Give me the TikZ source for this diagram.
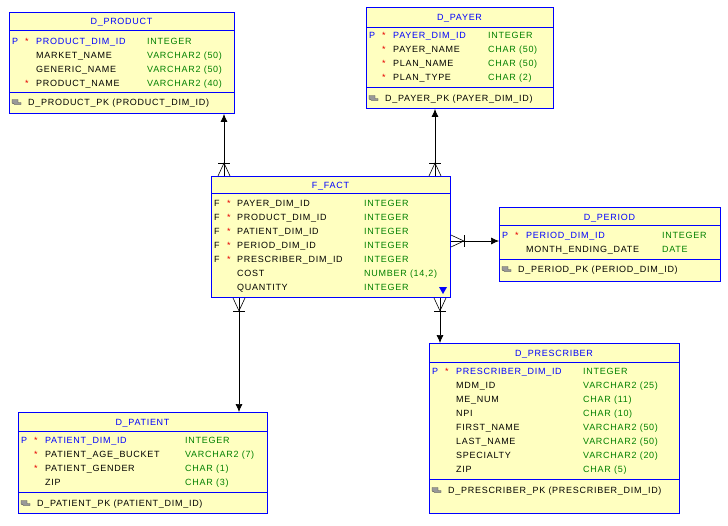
\documentclass[tikz,border=0pt]{standalone}
\usepackage{fontspec}
\setmainfont{Liberation Sans}[LetterSpace=8]
\usetikzlibrary{arrows.meta}
\definecolor{tfill}{RGB}{255,255,192}
\definecolor{tblue}{RGB}{0,0,255}
\definecolor{tgreen}{RGB}{0,128,0}
\definecolor{tred}{RGB}{230,0,0}
\tikzset{
  tbl/.style={draw=tblue,fill=tfill,line width=0.9pt,inner sep=0,anchor=north west},
  sep/.style={draw=tblue,line width=0.9pt},
  ttl/.style={text=tblue,font=\fontsize{9}{10}\selectfont,inner sep=0,anchor=base,yshift=-3.3pt},
  txt/.style={anchor=base west,inner sep=0,yshift=-3.3pt,font=\fontsize{9}{10}\selectfont},
  pk/.style={txt,text=tblue},
  ty/.style={txt,text=tgreen},
  st/.style={txt,text=tred},
  rel/.style={draw=black,line width=0.7pt},
  crow/.style={draw=black,line width=0.6pt},
}
\newcommand\keyicon[2]{%
  \fill[gray!80,draw=gray!50!black,line width=0.3pt] (#1,#2-2.5) -- (#1+6,#2-2.5) -- (#1+6,#2+0.5) -- (#1+9,#2+0.5) -- (#1+9,#2+2.5) -- (#1+3,#2+2.5) -- (#1,#2+1) -- cycle;
}
% name, x1,y1,x2,y2, titleline, divider, title, titley
\newcommand\ertable[9]{%
  \node[tbl,minimum width=#4-#2,minimum height=#5-#3] (#1) at (#2,#3) {};
  \draw[sep] (#2,#6) -- (#4,#6);
  \draw[sep] (#2,#7) -- (#4,#7);
  \node[ttl] (#1-t) at ({(#2+#4)/2},#9) {#8};
}
\begin{document}
\begin{tikzpicture}[x=1pt,y=-1pt]
\useasboundingbox (0,0) rectangle (728,525);
% D_PRODUCT
\ertable{prod}{9}{12}{234}{113}{30}{92}{D\_PRODUCT}{21}
\node[pk] (p1) at (12,41) {P}; \node[st] (p2) at (25,41) {*}; \node[pk] (p3) at (36,41) {PRODUCT\_DIM\_ID}; \node[ty] (p4) at (147,41) {INTEGER};
\node[txt] (p5) at (36,55) {MARKET\_NAME}; \node[ty] (p6) at (147,55) {VARCHAR2 (50)};
\node[txt] (p7) at (36,69) {GENERIC\_NAME}; \node[ty] (p8) at (147,69) {VARCHAR2 (50)};
\node[st] (p9) at (25,83) {*}; \node[txt] (p10) at (36,83) {PRODUCT\_NAME}; \node[ty] (p11) at (147,83) {VARCHAR2 (40)};
\keyicon{12}{102}\node[txt] (pk) at (28,102) {D\_PRODUCT\_PK (PRODUCT\_DIM\_ID)};
% D_PAYER
\ertable{pay}{366}{7}{553}{108}{27}{87}{D\_PAYER}{17}
\node[pk] (q1) at (369,35) {P}; \node[st] (q2) at (382,35) {*}; \node[pk] (q3) at (393,35) {PAYER\_DIM\_ID}; \node[ty] (q4) at (488,35) {INTEGER};
\node[st] (q5) at (382,49) {*}; \node[txt] (q6) at (393,49) {PAYER\_NAME}; \node[ty] (q7) at (488,49) {CHAR (50)};
\node[st] (q8) at (382,63) {*}; \node[txt] (q9) at (393,63) {PLAN\_NAME}; \node[ty] (q10) at (488,63) {CHAR (50)};
\node[st] (q11) at (382,77) {*}; \node[txt] (q12) at (393,77) {PLAN\_TYPE}; \node[ty] (q13) at (488,77) {CHAR (2)};
\keyicon{369}{98}\node[txt] (qk) at (385,98) {D\_PAYER\_PK (PAYER\_DIM\_ID)};
% F_FACT
\node[tbl,minimum width=239,minimum height=121] (fact) at (211,176) {};
\draw[sep] (211,193) -- (450,193);
\node[ttl] (fact-t) at (330.5,185) {F\_FACT};
\foreach \n/\y in {PAYER\_DIM\_ID/203,PRODUCT\_DIM\_ID/217,PATIENT\_DIM\_ID/231,PERIOD\_DIM\_ID/245,PRESCRIBER\_DIM\_ID/259}{
  \node[txt] at (214,\y) {F}; \node[st] at (227,\y) {*}; \node[txt] at (237,\y) {\n}; \node[ty] at (364,\y) {INTEGER};}
\node[txt] (f1) at (237,273) {COST}; \node[ty] (f2) at (364,273) {NUMBER (14,2)};
\node[txt] (f3) at (237,287) {QUANTITY}; \node[ty] (f4) at (364,287) {INTEGER};
\fill[tblue] (439,287) -- (447,287) -- (443,294) -- cycle;
% D_PERIOD
\ertable{per}{499}{207}{720}{281}{225}{259}{D\_PERIOD}{217}
\node[pk] (r1) at (502,235) {P}; \node[st] (r2) at (515,235) {*}; \node[pk] (r3) at (526,235) {PERIOD\_DIM\_ID}; \node[ty] (r4) at (662,235) {INTEGER};
\node[txt] (r5) at (526,249) {MONTH\_ENDING\_DATE}; \node[ty] (r6) at (662,249) {DATE};
\keyicon{502}{269}\node[txt] (rk) at (518,269) {D\_PERIOD\_PK (PERIOD\_DIM\_ID)};
% D_PRESCRIBER
\ertable{pre}{429}{343}{679}{513}{362}{479}{D\_PRESCRIBER}{353}
\node[pk] (s1) at (432,371) {P}; \node[st] (s2) at (445,371) {*}; \node[pk] (s3) at (456,371) {PRESCRIBER\_DIM\_ID}; \node[ty] (s4) at (583,371) {INTEGER};
\foreach \n/\t/\y in {MDM\_ID/VARCHAR2 (25)/385,ME\_NUM/CHAR (11)/399,NPI/CHAR (10)/413,FIRST\_NAME/VARCHAR2 (50)/427,LAST\_NAME/VARCHAR2 (50)/441,SPECIALTY/VARCHAR2 (20)/455,ZIP/CHAR (5)/469}{
  \node[txt] at (456,\y) {\n}; \node[ty] at (583,\y) {\t};}
\keyicon{432}{490}\node[txt] (sk) at (448,490) {D\_PRESCRIBER\_PK (PRESCRIBER\_DIM\_ID)};
% D_PATIENT
\ertable{pat}{18}{412}{267}{513}{431}{492}{D\_PATIENT}{422}
\node[pk] (t1) at (21,440) {P}; \node[st] (t2) at (34,440) {*}; \node[pk] (t3) at (45,440) {PATIENT\_DIM\_ID}; \node[ty] (t4) at (185,440) {INTEGER};
\node[st] (t5) at (34,454) {*}; \node[txt] (t6) at (45,454) {PATIENT\_AGE\_BUCKET}; \node[ty] (t7) at (185,454) {VARCHAR2 (7)};
\node[st] (t8) at (34,468) {*}; \node[txt] (t9) at (45,468) {PATIENT\_GENDER}; \node[ty] (t10) at (185,468) {CHAR (1)};
\node[txt] (t11) at (45,482) {ZIP}; \node[ty] (t12) at (185,482) {CHAR (3)};
\keyicon{21}{503}\node[txt] (tk) at (37,503) {D\_PATIENT\_PK (PATIENT\_DIM\_ID)};
% connectors
\coordinate (c1) at (224,0); \coordinate (c2) at (435,0); \coordinate (c3) at (0,241);
\coordinate (c4) at (239,0); \coordinate (c5) at (440,0);
\draw[rel,-{Latex[length=8pt,width=7pt]}] (fact.north -| c1) -- (prod.south -| c1);
\draw[rel,-{Latex[length=8pt,width=7pt]}] (fact.north -| c2) -- (pay.south -| c2);
\draw[rel,-{Latex[length=8pt,width=7pt]}] (fact.east |- c3) -- (per.west |- c3);
\draw[rel,-{Latex[length=8pt,width=7pt]}] (fact.south -| c4) -- (pat.north -| c4);
\draw[rel,-{Latex[length=8pt,width=7pt]}] (fact.south -| c5) -- (pre.north -| c5);
% crow's feet
\foreach \c in {c1,c2}{
  \draw[crow] ([xshift=-6pt]fact.north -| \c) -- ([yshift=13pt]fact.north -| \c) -- ([xshift=6pt]fact.north -| \c);
  \draw[crow] ([xshift=-6pt,yshift=13pt]fact.north -| \c) -- ([xshift=6pt,yshift=13pt]fact.north -| \c);}
\foreach \c in {c4,c5}{
  \draw[crow] ([xshift=-6pt]fact.south -| \c) -- ([yshift=-13pt]fact.south -| \c) -- ([xshift=6pt]fact.south -| \c);
  \draw[crow] ([xshift=-6pt,yshift=-13pt]fact.south -| \c) -- ([xshift=6pt,yshift=-13pt]fact.south -| \c);}
\draw[crow] ([yshift=6pt]fact.east |- c3) -- ([xshift=13pt]fact.east |- c3) -- ([yshift=-6pt]fact.east |- c3);
\draw[crow] ([xshift=13pt,yshift=6pt]fact.east |- c3) -- ([xshift=13pt,yshift=-6pt]fact.east |- c3);
\end{tikzpicture}
\end{document}
